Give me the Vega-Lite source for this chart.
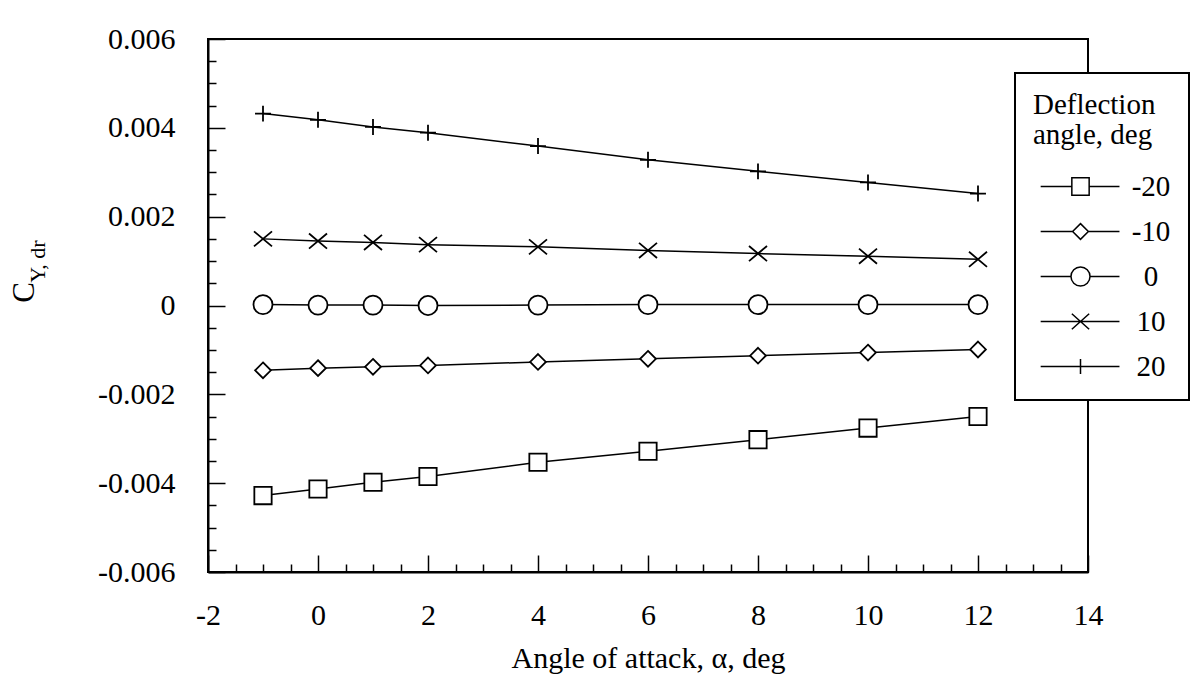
{
  "$schema": "https://vega.github.io/schema/vega-lite/v6.json",
  "width": 880,
  "height": 533,
  "autosize": {"type": "none"},
  "padding": {"left": 208, "top": 39, "right": 107, "bottom": 106},
  "background": "white",
  "config": {
    "font": "Liberation Serif",
    "view": {"stroke": "black", "strokeWidth": 2},
    "axis": {
      "domainColor": "black", "domainWidth": 2,
      "tickColor": "black", "tickWidth": 1.5,
      "labelColor": "black", "titleColor": "black",
      "labelFont": "Liberation Serif", "titleFont": "Liberation Serif",
      "labelFontSize": 30, "titleFontSize": 30, "titleFontWeight": "normal",
      "grid": false
    },
    "legend": {"strokeWidth": 2}
  },
  "data": {
    "values": [
      {"series": "-20", "alpha": -1, "cy": -0.00428},
      {"series": "-20", "alpha": 0, "cy": -0.00413},
      {"series": "-20", "alpha": 1, "cy": -0.00398},
      {"series": "-20", "alpha": 2, "cy": -0.00385},
      {"series": "-20", "alpha": 4, "cy": -0.00353},
      {"series": "-20", "alpha": 6, "cy": -0.00328},
      {"series": "-20", "alpha": 8, "cy": -0.00302},
      {"series": "-20", "alpha": 10, "cy": -0.00276},
      {"series": "-20", "alpha": 12, "cy": -0.00250},
      {"series": "-10", "alpha": -1, "cy": -0.00146},
      {"series": "-10", "alpha": 0, "cy": -0.00141},
      {"series": "-10", "alpha": 1, "cy": -0.00138},
      {"series": "-10", "alpha": 2, "cy": -0.00135},
      {"series": "-10", "alpha": 4, "cy": -0.00127},
      {"series": "-10", "alpha": 6, "cy": -0.00120},
      {"series": "-10", "alpha": 8, "cy": -0.00113},
      {"series": "-10", "alpha": 10, "cy": -0.00106},
      {"series": "-10", "alpha": 12, "cy": -0.00099},
      {"series": "0", "alpha": -1, "cy": 0.00002},
      {"series": "0", "alpha": 0, "cy": 0.00001},
      {"series": "0", "alpha": 1, "cy": 0.00001},
      {"series": "0", "alpha": 2, "cy": 0.0},
      {"series": "0", "alpha": 4, "cy": 0.00001},
      {"series": "0", "alpha": 6, "cy": 0.00002},
      {"series": "0", "alpha": 8, "cy": 0.00002},
      {"series": "0", "alpha": 10, "cy": 0.00002},
      {"series": "0", "alpha": 12, "cy": 0.00002},
      {"series": "10", "alpha": -1, "cy": 0.00150},
      {"series": "10", "alpha": 0, "cy": 0.00145},
      {"series": "10", "alpha": 1, "cy": 0.00142},
      {"series": "10", "alpha": 2, "cy": 0.00137},
      {"series": "10", "alpha": 4, "cy": 0.00132},
      {"series": "10", "alpha": 6, "cy": 0.00124},
      {"series": "10", "alpha": 8, "cy": 0.00117},
      {"series": "10", "alpha": 10, "cy": 0.00111},
      {"series": "10", "alpha": 12, "cy": 0.00104},
      {"series": "20", "alpha": -1, "cy": 0.00432},
      {"series": "20", "alpha": 0, "cy": 0.00418},
      {"series": "20", "alpha": 1, "cy": 0.00402},
      {"series": "20", "alpha": 2, "cy": 0.00389},
      {"series": "20", "alpha": 4, "cy": 0.00359},
      {"series": "20", "alpha": 6, "cy": 0.00328},
      {"series": "20", "alpha": 8, "cy": 0.00302},
      {"series": "20", "alpha": 10, "cy": 0.00277},
      {"series": "20", "alpha": 12, "cy": 0.00252}
    ]
  },
  "encoding": {
    "x": {
      "field": "alpha", "type": "quantitative",
      "scale": {"domain": [-2, 14], "nice": false, "zero": false},
      "axis": {
        "values": [-2, -1.5, -1, -0.5, 0, 0.5, 1, 1.5, 2, 2.5, 3, 3.5, 4, 4.5, 5, 5.5, 6, 6.5, 7, 7.5, 8, 8.5, 9, 9.5, 10, 10.5, 11, 11.5, 12, 12.5, 13, 13.5, 14],
        "tickSize": {"condition": {"test": "datum.value % 2 == 0", "value": -17}, "value": -8},
        "labelExpr": "datum.value % 2 == 0 ? replace(format(datum.value, 'd'), '−', '-') : ''",
        "labelPadding": 45,
        "labelFlush": false,
        "labelOverlap": false,
        "title": "Angle of attack, α, deg",
        "titlePadding": 4
      }
    }
  },
  "layer": [
    {
      "mark": {"type": "line", "color": "black", "strokeWidth": 1.5},
      "encoding": {
        "y": {
          "field": "cy", "type": "quantitative",
          "scale": {"domain": [-0.006, 0.006], "nice": false, "zero": false},
          "axis": {
            "values": [-0.006, -0.0055, -0.005, -0.0045, -0.004, -0.0035, -0.003, -0.0025, -0.002, -0.0015, -0.001, -0.0005, 0, 0.0005, 0.001, 0.0015, 0.002, 0.0025, 0.003, 0.0035, 0.004, 0.0045, 0.005, 0.0055, 0.006],
            "tickSize": {"condition": {"test": "abs(datum.value*500 - round(datum.value*500)) < 0.01", "value": -17}, "value": -8},
            "labelExpr": "abs(datum.value*500 - round(datum.value*500)) < 0.01 ? replace(format(datum.value, '.3~f'), '−', '-') : ''",
            "labelPadding": 50,
            "labelFlush": false,
            "labelOverlap": false,
            "title": "C",
            "titleAngle": -90,
            "titleX": -175,
            "titleY": 253,
            "titleAlign": "center",
            "titleBaseline": "alphabetic",
            "titleFontSize": 31
          }
        },
        "detail": {"field": "series", "type": "nominal"}
      }
    },
    {
      "mark": {"type": "point", "filled": true, "fill": "white", "stroke": "black", "strokeWidth": 1.8, "size": 300, "opacity": 1},
      "encoding": {
        "y": {
          "field": "cy", "type": "quantitative",
          "axis": {
            "orient": "left",
            "title": "Y, dr",
            "titleAngle": -90,
            "titleX": -164,
            "titleY": 222,
            "titleAlign": "center",
            "titleBaseline": "alphabetic",
            "titleFontSize": 22,
            "labels": false, "ticks": false, "domain": false, "grid": false
          }
        },
        "shape": {
          "field": "series", "type": "nominal",
          "scale": {
            "domain": ["-20", "-10", "0", "10", "20"],
            "range": [
              "M-1,-1L1,-1L1,1L-1,1Z",
              "M0,-0.91L0.91,0L0,0.91L-0.91,0Z",
              "M-1.1,0A1.1,1.1 0 1 0 1.1,0A1.1,1.1 0 1 0 -1.1,0Z",
              "M-1.04,-0.87L1.04,0.87M-1.04,0.87L1.04,-0.87",
              "M-0.92,0L0.92,0M0,-0.92L0,0.92"
            ]
          },
          "legend": null
        }
      }
    },
    {
      "transform": [{"filter": "datum.alpha > 100"}],
      "mark": {"type": "point", "filled": false, "color": "black", "strokeWidth": 1.5, "size": 300, "opacity": 1},
      "encoding": {
        "y": {"field": "cy", "type": "quantitative", "axis": null},
        "shape": {
          "field": "series", "type": "nominal",
          "scale": {
            "domain": ["-20", "-10", "0", "10", "20"],
            "range": [
              "M-4.6,0L-1,0M1,0L4.5,0M-1,-1L1,-1L1,1L-1,1Z",
              "M-4.6,0L-0.91,0M0.91,0L4.5,0M0,-0.91L0.91,0L0,0.91L-0.91,0Z",
              "M-4.6,0L-1.1,0M1.1,0L4.5,0M-1.1,0A1.1,1.1 0 1 0 1.1,0A1.1,1.1 0 1 0 -1.1,0Z",
              "M-4.6,0L4.5,0M-1.0,-0.9L1.0,0.9M-1.0,0.9L1.0,-0.9",
              "M-4.6,0L4.5,0M0,-0.87L0,0.87"
            ]
          },
          "legend": {
            "orient": "none",
            "legendX": 807,
            "legendY": 34,
            "title": ["Deflection", "angle, deg"],
            "titleFont": "Liberation Serif",
            "titleFontSize": 29,
            "titleFontWeight": "normal",
            "titleColor": "black",
            "titleLineHeight": 30,
            "titlePadding": 22,
            "labelFont": "Liberation Serif",
            "labelFontSize": 29,
            "labelColor": "black",
            "labelAlign": "center",
            "labelOffset": 56,
            "symbolOffset": 33,
            "symbolSize": 300,
            "rowPadding": 15,
            "padding": 18,
            "strokeColor": "black",
            "fillColor": "white",
            "symbolStrokeColor": "black",
            "symbolFillColor": "white",
            "symbolStrokeWidth": 1.5,
            "symbolOpacity": 1
          }
        }
      }
    }
  ],
  "resolve": {"axis": {"y": "independent"}, "scale": {"shape": "independent"}}
}
